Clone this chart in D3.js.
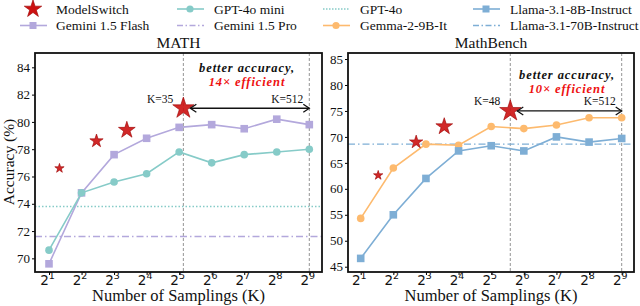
<!DOCTYPE html>
<html>
<head>
<meta charset="utf-8">
<script src="https://cdn.jsdelivr.net/npm/d3@7"></script>
<style>
  body { margin: 0; background: #fff; }
  svg { display: block; }
</style>
</head>
<body>
<div id="chart"></div>
<script>
// -DATA-
const samplings = [2, 4, 8, 16, 32, 64, 128, 256, 512];
const xTickExps = [1, 2, 3, 4, 5, 6, 7, 8, 9];

// MATH panel
const mathFlash = [69.6, 74.8, 77.6, 78.8, 79.6, 79.8, 79.5, 80.2, 79.8];
const mathMini = [70.6, 74.8, 75.6, 76.2, 77.8, 77.0, 77.6, 77.8, 78.0];
const mathGpt4o = 73.8;
const mathPro = 71.6;
const mathSwitchK = [2.5, 5.5, 10.5, 35];
const mathSwitchAcc = [76.6, 78.6, 79.4, 81.0];
const mathYTicks = [70, 72, 74, 76, 78, 80, 82, 84];

// MathBench panel
const benchGemma = [54.3, 64.0, 68.6, 68.4, 72.0, 71.6, 72.3, 73.7, 73.7];
const benchLlama8 = [46.6, 55.0, 62.0, 67.3, 68.3, 67.3, 70.0, 69.0, 69.7];
const benchLlama70 = 68.6;
const benchSwitchK = [2.9, 6.5, 11.8, 48];
const benchSwitchAcc = [62.6, 69.0, 72.0, 75.0];
const benchYTicks = [45, 50, 55, 60, 65, 70, 75, 80, 85];

const starSizes = [27, 55, 87, 140];

// -COLORS / FONTS-
const cStar = "#cc1111";
const cStarEdge = "#9a0000";
const cFlash = "#b3a8dc";
const cMini = "#86cbc8";
const cGemma = "#fdba6e";
const cLlama = "#7eaed5";
const serif = "'Liberation Serif', 'DejaVu Serif', serif";
const sans = "'DejaVu Sans', sans-serif";

const W = 640, H = 306;
const svg = d3.select("#chart").append("svg").attr("width", W).attr("height", H);

// -LEGEND-
const legendItems = [
  {label: "ModelSwitch", type: "star", col: 0, row: 0},
  {label: "Gemini 1.5 Flash", type: "square", color: cFlash, col: 0, row: 1},
  {label: "GPT-4o mini", type: "circle", color: cMini, col: 1, row: 0},
  {label: "Gemini 1.5 Pro", type: "dashdot", color: cFlash, col: 1, row: 1},
  {label: "GPT-4o", type: "dotted", color: cMini, col: 2, row: 0},
  {label: "Gemma-2-9B-It", type: "circle", color: cGemma, col: 2, row: 1},
  {label: "Llama-3.1-8B-Instruct", type: "square", color: cLlama, col: 3, row: 0},
  {label: "Llama-3.1-70B-Instruct", type: "dashdot", color: cLlama, col: 3, row: 1}
];
const colX = [20, 177, 323, 473];
const rowY = [9, 25.5];

legendItems.forEach(it => {
  const g = svg.append("g").attr("transform", `translate(${colX[it.col]},${rowY[it.row]})`);
  if (it.type === "star") {
    g.append("path").attr("d", d3.symbol(d3.symbolStar, 95)())
      .attr("transform", "translate(13,0)")
      .attr("fill", cStar).attr("stroke", cStarEdge).attr("stroke-width", 0.6);
  } else {
    const line = g.append("line").attr("x1", 0).attr("x2", 27).attr("y1", 0).attr("y2", 0)
      .attr("stroke", it.color).attr("stroke-width", 1.6);
    if (it.type === "dotted") line.attr("stroke-dasharray", "1.5,1.5");
    if (it.type === "dashdot") line.attr("stroke-dasharray", "6,2.5,1.5,2.5").attr("stroke-width", 1.3);
    if (it.type === "square") g.append("rect").attr("x", 9.5).attr("y", -3.5).attr("width", 7).attr("height", 7).attr("fill", it.color);
    if (it.type === "circle") g.append("circle").attr("cx", 13).attr("cy", 0).attr("r", 3.6).attr("fill", it.color);
  }
  g.append("text").attr("x", it.col === 0 ? 36 : 37).attr("y", 4.5)
    .style("font-family", serif).attr("font-size", 13.5).attr("fill", "#111").text(it.label);
});

// -PANELS-
function drawPanel(cfg) {
  const {x0, x1, y0, y1, xr, yDomain, yTicks, title} = cfg;
  const g = svg.append("g");
  const x = d3.scaleLog().base(2).domain([2, 512]).range(xr);
  const y = d3.scaleLinear().domain(yDomain).range([y1, y0]);

  // title
  g.append("text").attr("x", (x0 + x1) / 2).attr("y", 48).attr("text-anchor", "middle")
    .style("font-family", serif).attr("font-size", 15.5).attr("fill", "#111").text(title);

  // y axis
  const yAxis = d3.axisLeft(y).tickValues(yTicks).tickSize(3).tickPadding(2);
  const ya = g.append("g").attr("transform", `translate(${x0},0)`).call(yAxis);
  ya.select(".domain").remove();
  ya.selectAll("text").style("font-family", serif).attr("font-size", 13).attr("fill", "#111");

  // x axis
  const xAxis = d3.axisBottom(x).tickValues(samplings).tickSize(3).tickPadding(3).tickFormat(() => "");
  const xa = g.append("g").attr("transform", `translate(0,${y1})`).call(xAxis);
  xa.select(".domain").remove();
  xa.selectAll(".tick").each(function(d, i) {
    const t = d3.select(this).append("text").attr("x", -2).attr("y", 12.5).attr("text-anchor", "middle")
      .attr("fill", "#111").style("font-family", sans).attr("font-size", 13.5);
    t.append("tspan").text("2");
    t.append("tspan").attr("dy", -5.5).attr("font-size", 9.5).text(xTickExps[i]);
  });

  // x label
  g.append("text").attr("x", (x0 + x1) / 2).attr("y", 301).attr("text-anchor", "middle")
    .style("font-family", serif).attr("font-size", 16.5).attr("fill", "#111").text("Number of Samplings (K)");

  // vertical dashed lines
  [cfg.switchK[3], 512].forEach(k => {
    g.append("line").attr("x1", x(k)).attr("x2", x(k)).attr("y1", y0).attr("y2", y1)
      .attr("stroke", "#888").attr("stroke-width", 0.9).attr("stroke-dasharray", "3,2");
  });

  // horizontal reference lines
  cfg.hlines.forEach(h => {
    g.append("line").attr("x1", x0).attr("x2", x1).attr("y1", y(h.v)).attr("y2", y(h.v))
      .attr("stroke", h.color).attr("stroke-width", h.dash === "dot" ? 1.5 : 1.3)
      .attr("stroke-dasharray", h.dash === "dot" ? "1.5,2" : "7,3,1.5,3");
  });

  // series
  const line = d3.line().x((d, i) => x(samplings[i])).y(d => y(d));
  cfg.series.forEach(s => {
    g.append("path").datum(s.values).attr("d", line).attr("fill", "none")
      .attr("stroke", s.color).attr("stroke-width", 1.6);
    if (s.marker === "square") {
      g.selectAll(null).data(s.values).enter().append("rect")
        .attr("x", (d, i) => x(samplings[i]) - 3.8).attr("y", d => y(d) - 3.8)
        .attr("width", 7.6).attr("height", 7.6).attr("fill", s.color);
    } else {
      g.selectAll(null).data(s.values).enter().append("circle")
        .attr("cx", (d, i) => x(samplings[i])).attr("cy", d => y(d)).attr("r", 3.8).attr("fill", s.color);
    }
  });

  // stars
  cfg.switchK.forEach((k, i) => {
    g.append("path").attr("d", d3.symbol(d3.symbolStar, starSizes[i])())
      .attr("transform", `translate(${x(k)},${y(cfg.switchAcc[i])})`)
      .attr("fill", cStar).attr("fill-opacity", 0.9).attr("stroke", cStarEdge).attr("stroke-width", 0.6);
  });

  // arrow
  const kS = cfg.switchK[3];
  const ay = y(cfg.switchAcc[3]);
  const ax1 = x(kS) + 7, ax2 = x(512);
  g.append("line").attr("x1", ax1).attr("x2", ax2).attr("y1", ay).attr("y2", ay)
    .attr("stroke", "#111").attr("stroke-width", 1.3);
  g.append("path").attr("d", `M${ax1 + 6},${ay - 4}L${ax1},${ay}L${ax1 + 6},${ay + 4}`)
    .attr("fill", "none").attr("stroke", "#111").attr("stroke-width", 1.3);
  g.append("path").attr("d", `M${ax2 - 6},${ay - 4}L${ax2},${ay}L${ax2 - 6},${ay + 4}`)
    .attr("fill", "none").attr("stroke", "#111").attr("stroke-width", 1.3);

  // annotation labels
  g.append("text").attr("x", x(kS) - 10).attr("y", ay - 5.5).attr("text-anchor", "end")
    .style("font-family", serif).attr("font-size", 11.5).attr("fill", "#111").text("K=" + kS);
  g.append("text").attr("x", x(512) - 6).attr("y", ay - 5.5).attr("text-anchor", "end")
    .style("font-family", serif).attr("font-size", 11.5).attr("fill", "#111").text("K=512");
  const cx = cfg.noteX;
  g.append("text").attr("x", cx).attr("y", cfg.noteY).attr("text-anchor", "middle")
    .style("font-family", serif).attr("font-size", 12.5).attr("font-weight", "bold").attr("font-style", "italic")
    .attr("letter-spacing", 0.9).attr("fill", "#111").text("better accuracy,");
  g.append("text").attr("x", cx).attr("y", cfg.noteY + 14.5).attr("text-anchor", "middle")
    .style("font-family", serif).attr("font-size", 12.5).attr("font-weight", "bold").attr("font-style", "italic")
    .attr("letter-spacing", 0.9).attr("fill", "#ee1111").text(cfg.effText);

  // frame
  g.append("rect").attr("x", x0).attr("y", y0).attr("width", x1 - x0).attr("height", y1 - y0)
    .attr("fill", "none").attr("stroke", "#111").attr("stroke-width", 1.8);
}

drawPanel({
  title: "MATH", x0: 35, x1: 322, y0: 53, y1: 272, xr: [49, 309.3],
  yDomain: [69.0, 85.05], yTicks: mathYTicks,
  series: [
    {values: mathFlash, color: cFlash, marker: "square"},
    {values: mathMini, color: cMini, marker: "circle"}
  ],
  hlines: [
    {v: mathGpt4o, color: cMini, dash: "dot"},
    {v: mathPro, color: cFlash, dash: "dashdot"}
  ],
  switchK: mathSwitchK, switchAcc: mathSwitchAcc,
  noteX: 247, noteY: 71.5, effText: "14\u00d7 efficient"
});

drawPanel({
  title: "MathBench", x0: 348, x1: 634, y0: 53, y1: 272, xr: [360.7, 621.7],
  yDomain: [43.98, 86.16], yTicks: benchYTicks,
  series: [
    {values: benchGemma, color: cGemma, marker: "circle"},
    {values: benchLlama8, color: cLlama, marker: "square"}
  ],
  hlines: [
    {v: benchLlama70, color: cLlama, dash: "dashdot"}
  ],
  switchK: benchSwitchK, switchAcc: benchSwitchAcc,
  noteX: 567, noteY: 78.5, effText: "10\u00d7 efficient"
});

// y label (shared, left)
svg.append("text").attr("transform", "translate(13.5,162) rotate(-90)").attr("text-anchor", "middle")
  .style("font-family", serif).attr("font-size", 15.5).attr("fill", "#111").text("Accuracy (%)");
</script>
</body>
</html>
